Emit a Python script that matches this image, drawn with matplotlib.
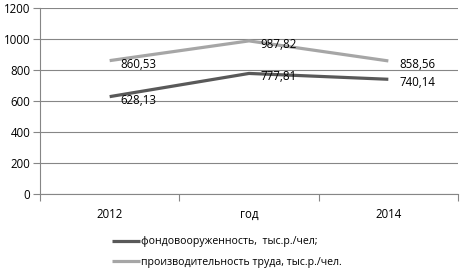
import matplotlib
matplotlib.use("Agg")
import matplotlib.pyplot as plt
from matplotlib.ticker import FixedLocator, NullFormatter

categories = ["2012", "год", "2014"]
fondo = [628.13, 777.81, 740.14]
proizv = [860.53, 987.82, 858.56]
fondo_labels = ["628,13", "777,81", "740,14"]
proizv_labels = ["860,53", "987,82", "858,56"]
series_names = ["фондовооруженность,  тыс.р./чел;", "производительность труда, тыс.р./чел."]
yticks = [0, 200, 400, 600, 800, 1000, 1200]

plt.rcParams['font.family'] = ['Open Sans', 'DejaVu Sans']
fig = plt.figure(figsize=(4.61, 2.69), dpi=100)
ax = fig.add_axes([40/461, 1-194/269, 418/461, 186/269])

x = list(range(len(categories)))
dark = "#595959"
light = "#A6A6A6"
l1, = ax.plot(x, fondo, color=dark, lw=2.3, solid_capstyle='butt', zorder=3)
l2, = ax.plot(x, proizv, color=light, lw=2.3, solid_capstyle='butt', zorder=3)

for xi, v, t in zip(x, fondo, fondo_labels):
    ax.annotate(t, (xi, v), xytext=(8, -2.5), textcoords='offset points',
                ha='left', va='center', fontsize=8.3, color='black', zorder=4)
for xi, v, t in zip(x, proizv, proizv_labels):
    ax.annotate(t, (xi, v), xytext=(8, -2.5), textcoords='offset points',
                ha='left', va='center', fontsize=8.3, color='black', zorder=4)

ax.set_xlim(-0.5, 2.5)
ax.set_ylim(0, 1200)
ax.set_yticks(yticks)
ax.set_yticklabels([str(v) for v in yticks])
ax.grid(axis='y', color='#868686', lw=0.8)
ax.set_axisbelow(True)

ax.xaxis.set_major_locator(FixedLocator([-0.5, 0.5, 1.5, 2.5]))
ax.xaxis.set_major_formatter(NullFormatter())
ax.xaxis.set_minor_locator(FixedLocator(x))
ax.set_xticklabels(categories, minor=True)
ax.tick_params(axis='x', which='minor', length=0, pad=10, labelsize=8.3)
ax.tick_params(axis='x', which='major', length=5, color='#868686', width=0.8)
ax.tick_params(axis='y', length=5, color='#868686', width=0.8, labelsize=8.3, pad=2)

for s in ['top', 'right']:
    ax.spines[s].set_visible(False)
for s in ['left', 'bottom']:
    ax.spines[s].set_color('#868686')
    ax.spines[s].set_linewidth(0.8)

fig.legend([l1, l2], series_names, loc='upper left', bbox_to_anchor=(108/461, 1-232/269),
           frameon=False, fontsize=7.6, handlelength=2.6, handletextpad=0.1,
           labelspacing=0.9, borderaxespad=0)

fig.savefig("out.png", dpi=100)
